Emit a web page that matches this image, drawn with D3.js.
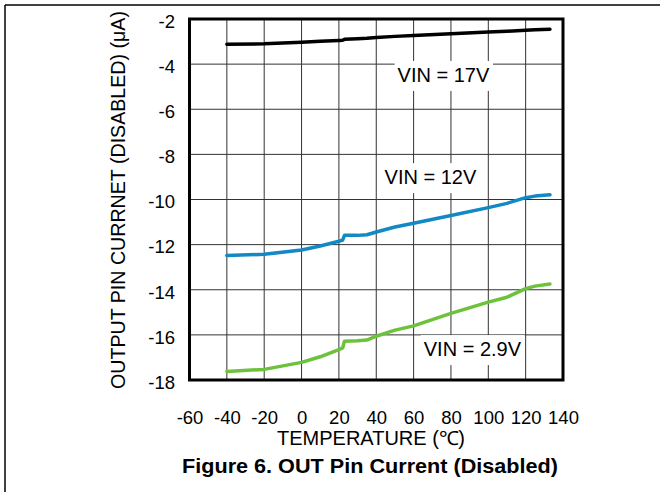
<!DOCTYPE html>
<html>
<head>
<meta charset="utf-8">
<script src="https://cdn.jsdelivr.net/npm/d3@7"></script>
<style>
  body { margin: 0; background: #fff; }
  text { font-family: "Liberation Sans", Arial, sans-serif; fill: #000; }
</style>
</head>
<body>
<div id="graph"></div>
<script>
// data
let temps = [-40, -20, 0, 10, 20, 22, 23, 30, 35, 40, 50, 60, 80, 100, 110, 120, 125, 133];
let vin17 = [-3.12, -3.10, -3.03, -2.99, -2.95, -2.94, -2.90, -2.87, -2.85, -2.82, -2.77, -2.73, -2.65, -2.58, -2.54, -2.50, -2.48, -2.45];
let vin12 = [-12.48, -12.43, -12.24, -12.06, -11.85, -11.80, -11.59, -11.59, -11.56, -11.44, -11.22, -11.05, -10.71, -10.36, -10.17, -9.92, -9.85, -9.79];
let vin29 = [-17.62, -17.53, -17.22, -16.97, -16.65, -16.58, -16.28, -16.26, -16.23, -16.06, -15.79, -15.60, -15.05, -14.55, -14.33, -13.95, -13.84, -13.75];

let xTicks = [-60, -40, -20, 0, 20, 40, 60, 80, 100, 120, 140];
let yTicks = [-2, -4, -6, -8, -10, -12, -14, -16, -18];

let seriesNames = ["VIN = 17V", "VIN = 12V", "VIN = 2.9V"];
let seriesColors = ["#000000", "#1288c4", "#6cc33b"];
// label anchors (temperature, value at text baseline)
let labelTemp = [76, 69, 91.5];
let labelVal = [-4.79, -9.32, -16.94];

let w = 669, h = 492;

const svg = d3.select("#graph").append("svg")
  .attr("width", w)
  .attr("height", h);

// outer figure border (top and left)
svg.append("line").attr("x1", 5).attr("x2", 660).attr("y1", 5).attr("y2", 5)
  .style("stroke", "#000").style("stroke-width", 1.5);
svg.append("line").attr("x1", 5).attr("x2", 5).attr("y1", 5).attr("y2", h)
  .style("stroke", "#000").style("stroke-width", 1.5);

let xScale = d3.scaleLinear().domain([-60, 140]).range([189.5, 563]);
let yScale = d3.scaleLinear().domain([-18, -2]).range([380, 19]);

// grid
let grid = svg.append("g");
grid.selectAll(".vg")
  .data(xTicks.slice(1, -1))
  .enter().append("line")
  .attr("x1", d => xScale(d)).attr("x2", d => xScale(d))
  .attr("y1", yScale(-2)).attr("y2", yScale(-18))
  .style("stroke", "#333").style("stroke-width", 1);
grid.selectAll(".hg")
  .data(yTicks.slice(1, -1))
  .enter().append("line")
  .attr("x1", xScale(-60)).attr("x2", xScale(140))
  .attr("y1", d => yScale(d)).attr("y2", d => yScale(d))
  .style("stroke", "#333").style("stroke-width", 1);

// axes (labels only, the frame is drawn below)
let xAxis = d3.axisBottom(xScale).tickValues(xTicks).tickSize(0).tickPadding(0)
  .tickFormat(d => String(d));
let yAxis = d3.axisLeft(yScale).tickValues(yTicks).tickSize(0).tickPadding(0)
  .tickFormat(d => String(d));

let gx = svg.append("g")
  .attr("transform", `translate(0, 411)`)
  .call(xAxis);
let gy = svg.append("g")
  .attr("transform", `translate(175, 0)`)
  .call(yAxis);
[gx, gy].forEach(g => {
  g.select(".domain").remove();
  g.selectAll("text")
    .style("font-family", '"Liberation Sans", Arial, sans-serif')
    .style("font-size", "18.5px")
    .style("fill", "#000");
});
gx.selectAll("text").attr("dy", "0.72em");
gy.selectAll("text").attr("dy", "0.45em");

let line = d3.line()
  .x((d, i) => xScale(temps[i]))
  .y(d => yScale(d));

[vin17, vin12, vin29].forEach((s, k) => {
  svg.append("path")
    .datum(s)
    .attr("d", line)
    .style("stroke", seriesColors[k])
    .style("stroke-width", "3.5px")
    .style("stroke-linejoin", "round")
    .style("stroke-linecap", "round")
    .style("fill", "none");
});

// series labels on white boxes
seriesNames.forEach((name, k) => {
  let g = svg.append("g");
  let r = g.append("rect").style("fill", "#fff");
  let t = g.append("text")
    .attr("x", xScale(labelTemp[k]))
    .attr("y", yScale(labelVal[k]))
    .attr("text-anchor", "middle")
    .style("font-size", "20px")
    .text(name);
  let b = t.node().getBBox();
  r.attr("x", b.x - 3).attr("y", b.y - 3)
   .attr("width", b.width + 6).attr("height", b.height + 8);
});

// plot frame
svg.append("rect")
  .attr("x", xScale(-60)).attr("y", yScale(-2))
  .attr("width", xScale(140) - xScale(-60))
  .attr("height", yScale(-18) - yScale(-2))
  .style("fill", "none")
  .style("stroke", "#000")
  .style("stroke-width", 3);

svg.append("text")
  .attr("x", 371).attr("y", 445)
  .attr("text-anchor", "middle")
  .attr("textLength", 188)
  .attr("lengthAdjust", "spacingAndGlyphs")
  .style("font-size", "19.5px")
  .text("TEMPERATURE (\u2103)");

svg.append("text")
  .attr("transform", `translate(125, 200) rotate(-90)`)
  .attr("text-anchor", "middle")
  .attr("textLength", 378)
  .attr("lengthAdjust", "spacingAndGlyphs")
  .style("font-size", "19.5px")
  .text("OUTPUT PIN CURRNET (DISABLED) (\u03bcA)");

svg.append("text")
  .attr("x", 370).attr("y", 473)
  .attr("text-anchor", "middle")
  .attr("textLength", 376)
  .attr("lengthAdjust", "spacingAndGlyphs")
  .style("font-size", "19.5px")
  .style("font-weight", "bold")
  .text("Figure 6. OUT Pin Current (Disabled)");
</script>
</body>
</html>
